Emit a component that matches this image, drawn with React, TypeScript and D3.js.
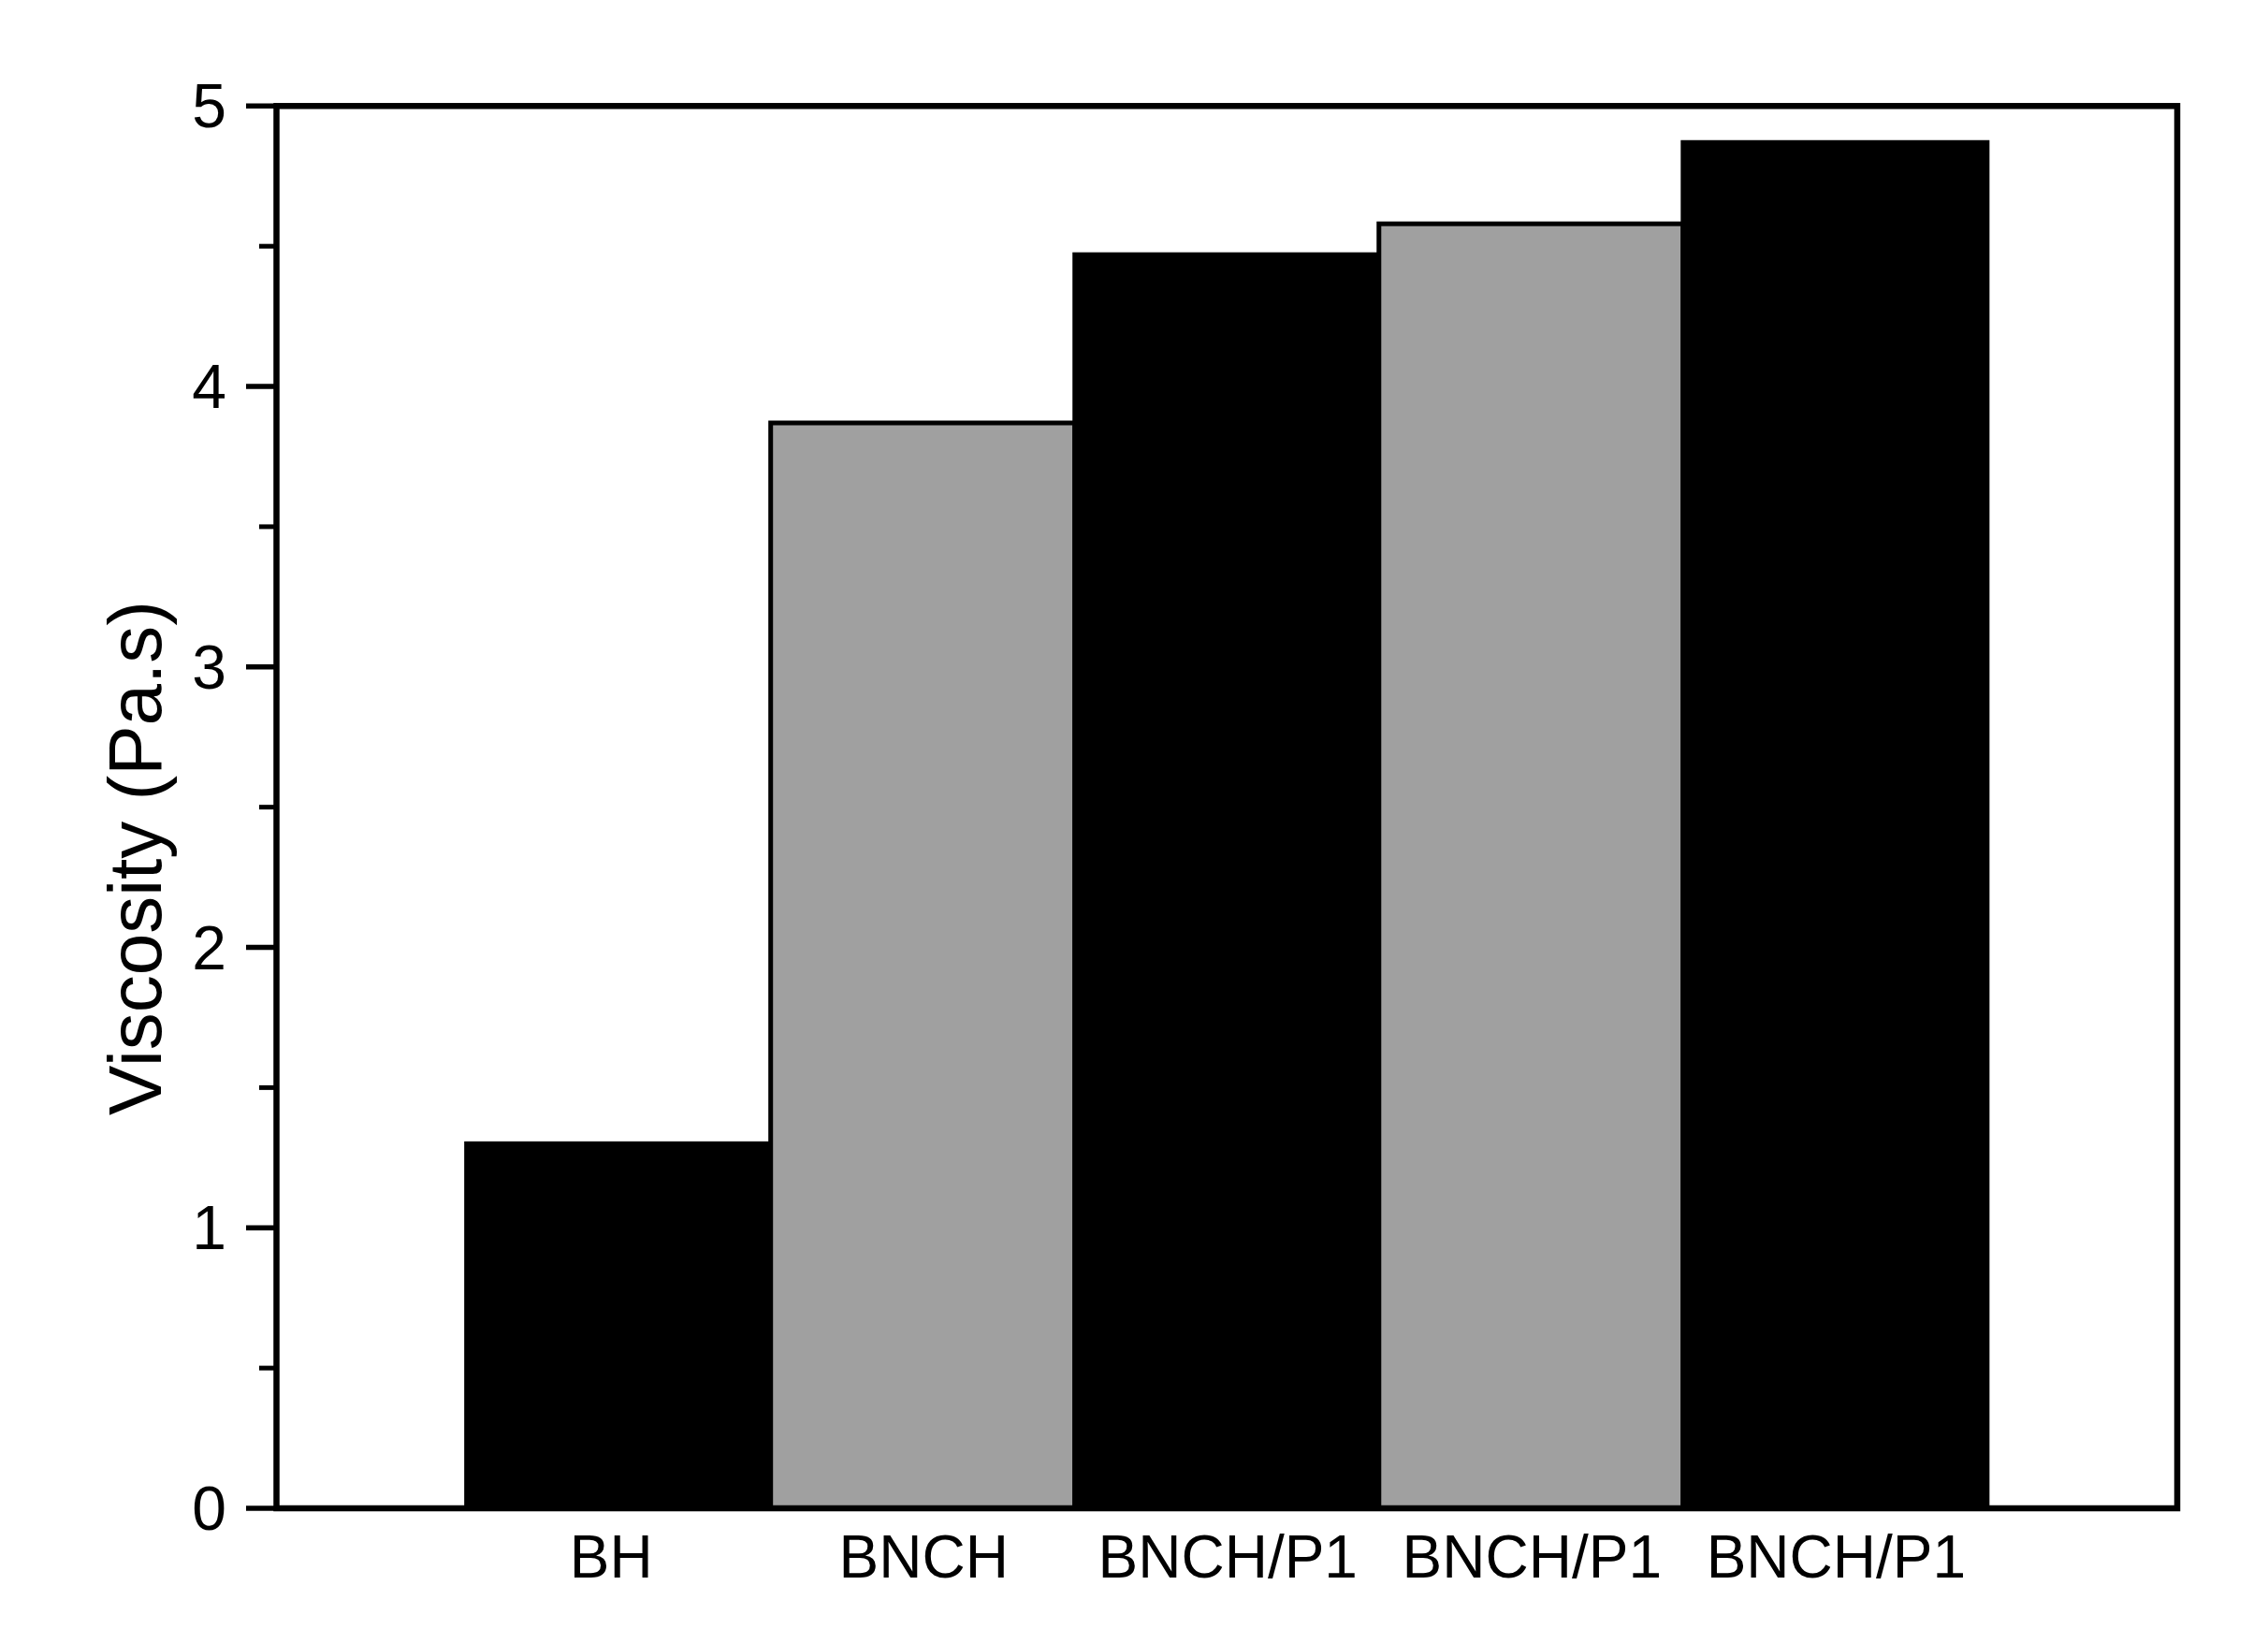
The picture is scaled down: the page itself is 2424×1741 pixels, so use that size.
import React from "react";
import * as d3 from "d3";

const categories = ["BH", "BNCH", "BNCH/P1", "BNCH/P1", "BNCH/P1"];
const values = [1.3, 3.87, 4.47, 4.58, 4.87];
const fills = ["#000000", "#a0a0a0", "#000000", "#a0a0a0", "#000000"];
const yMajorTicks = [0, 1, 2, 3, 4, 5];
const yMinorTicks = [0.5, 1.5, 2.5, 3.5, 4.5];

const W = 2424;
const H = 1741;
const left = 295.5;
const right = 2327;
const top = 113.3;
const bottom = 1612;
const FONT = "'Liberation Sans', Arial, Helvetica, sans-serif";

export default function App() {
  const x = d3.scaleLinear().domain([-0.125, 6.125]).range([left, right]);
  const y = d3.scaleLinear().domain([0, 5]).range([bottom, top]);

  return (
    <svg
      width={W}
      height={H}
      viewBox={`0 0 ${W} ${H}`}
      style={{ position: "absolute", left: 0, top: 0, background: "#fff" }}
    >
      <rect x={0} y={0} width={W} height={H} fill="#fff" />
      {values.map((v, i) => {
        const x0 = x(i + 1 - 0.5);
        const x1 = x(i + 1 + 0.5);
        return (
          <rect
            key={i}
            x={x0}
            y={y(v)}
            width={x1 - x0}
            height={y(0) - y(v)}
            fill={fills[i]}
            stroke="#000"
            strokeWidth={5}
          />
        );
      })}
      <rect
        x={left}
        y={top}
        width={right - left}
        height={bottom - top}
        fill="none"
        stroke="#000"
        strokeWidth={6.5}
      />
      {yMajorTicks.map((t) => (
        <g key={"M" + t}>
          <line x1={263} x2={left} y1={y(t)} y2={y(t)} stroke="#000" strokeWidth={5.5} />
          <text
            x={242}
            y={y(t)}
            dy="0.35em"
            textAnchor="end"
            fontFamily={FONT}
            fontSize={66}
            fill="#000"
          >
            {t}
          </text>
        </g>
      ))}
      {yMinorTicks.map((t) => (
        <line key={"m" + t} x1={277} x2={left} y1={y(t)} y2={y(t)} stroke="#000" strokeWidth={5} />
      ))}
      {categories.map((c, i) => (
        <text
          key={"c" + i}
          x={x(i + 1) + (i === 0 ? -8 : 1)}
          y={1686}
          textAnchor="middle"
          fontFamily={FONT}
          fontSize={64}
          fill="#000"
        >
          {c}
        </text>
      ))}
      <text
        transform={`translate(172, 917) rotate(-90)`}
        textAnchor="middle"
        fontFamily={FONT}
        fontSize={80}
        fill="#000"
      >
        Viscosity (Pa.s)
      </text>
    </svg>
  );
}
